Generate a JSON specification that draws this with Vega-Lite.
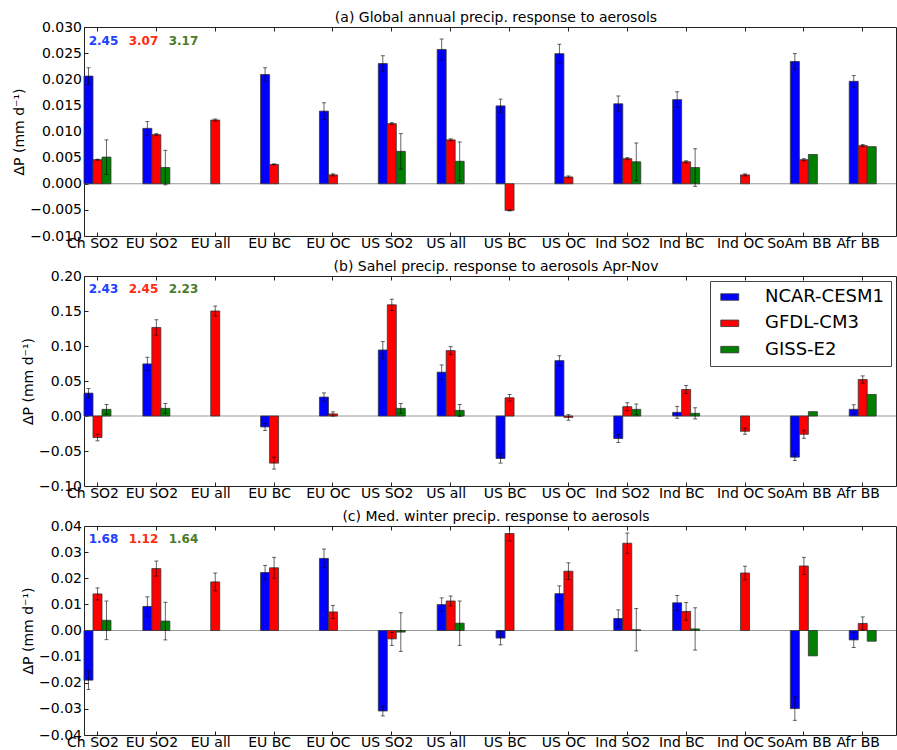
{
  "$schema": "https://vega.github.io/schema/vega-lite/v6.json",
  "padding": {"left": 12, "top": 10, "right": 0, "bottom": 0},
  "bounds": "flush",
  "spacing": 40,
  "datasets": {
    "bars": [
      {"panel": "a", "region": "Ch SO2", "model": "NCAR-CESM1", "value": 0.0206, "err": 0.0016},
      {"panel": "a", "region": "Ch SO2", "model": "GFDL-CM3", "value": 0.0046, "err": 0.0001},
      {"panel": "a", "region": "Ch SO2", "model": "GISS-E2", "value": 0.0051, "err": 0.0033},
      {"panel": "a", "region": "EU SO2", "model": "NCAR-CESM1", "value": 0.0106, "err": 0.0013},
      {"panel": "a", "region": "EU SO2", "model": "GFDL-CM3", "value": 0.0094, "err": 0.0002},
      {"panel": "a", "region": "EU SO2", "model": "GISS-E2", "value": 0.0031, "err": 0.0033},
      {"panel": "a", "region": "EU all", "model": "GFDL-CM3", "value": 0.0122, "err": 0.0002},
      {"panel": "a", "region": "EU BC", "model": "NCAR-CESM1", "value": 0.0209, "err": 0.0013},
      {"panel": "a", "region": "EU BC", "model": "GFDL-CM3", "value": 0.0037, "err": 0.0001},
      {"panel": "a", "region": "EU OC", "model": "NCAR-CESM1", "value": 0.0139, "err": 0.0016},
      {"panel": "a", "region": "EU OC", "model": "GFDL-CM3", "value": 0.0017, "err": 0.0002},
      {"panel": "a", "region": "US SO2", "model": "NCAR-CESM1", "value": 0.0230, "err": 0.0015},
      {"panel": "a", "region": "US SO2", "model": "GFDL-CM3", "value": 0.0115, "err": 0.0002},
      {"panel": "a", "region": "US SO2", "model": "GISS-E2", "value": 0.0062, "err": 0.0034},
      {"panel": "a", "region": "US all", "model": "NCAR-CESM1", "value": 0.0257, "err": 0.0020},
      {"panel": "a", "region": "US all", "model": "GFDL-CM3", "value": 0.0084, "err": 0.0002},
      {"panel": "a", "region": "US all", "model": "GISS-E2", "value": 0.0043, "err": 0.0037},
      {"panel": "a", "region": "US BC", "model": "NCAR-CESM1", "value": 0.0149, "err": 0.0013},
      {"panel": "a", "region": "US BC", "model": "GFDL-CM3", "value": -0.0051, "err": 0.0001},
      {"panel": "a", "region": "US OC", "model": "NCAR-CESM1", "value": 0.0249, "err": 0.0018},
      {"panel": "a", "region": "US OC", "model": "GFDL-CM3", "value": 0.0013, "err": 0.0002},
      {"panel": "a", "region": "Ind SO2", "model": "NCAR-CESM1", "value": 0.0153, "err": 0.0015},
      {"panel": "a", "region": "Ind SO2", "model": "GFDL-CM3", "value": 0.0048, "err": 0.0002},
      {"panel": "a", "region": "Ind SO2", "model": "GISS-E2", "value": 0.0042, "err": 0.0036},
      {"panel": "a", "region": "Ind BC", "model": "NCAR-CESM1", "value": 0.0161, "err": 0.0015},
      {"panel": "a", "region": "Ind BC", "model": "GFDL-CM3", "value": 0.0042, "err": 0.0002},
      {"panel": "a", "region": "Ind BC", "model": "GISS-E2", "value": 0.0031, "err": 0.0036},
      {"panel": "a", "region": "Ind OC", "model": "GFDL-CM3", "value": 0.0017, "err": 0.0002},
      {"panel": "a", "region": "SoAm BB", "model": "NCAR-CESM1", "value": 0.0234, "err": 0.0015},
      {"panel": "a", "region": "SoAm BB", "model": "GFDL-CM3", "value": 0.0046, "err": 0.0002},
      {"panel": "a", "region": "SoAm BB", "model": "GISS-E2", "value": 0.0056, "err": null},
      {"panel": "a", "region": "Afr BB", "model": "NCAR-CESM1", "value": 0.0196, "err": 0.0011},
      {"panel": "a", "region": "Afr BB", "model": "GFDL-CM3", "value": 0.0073, "err": 0.0002},
      {"panel": "a", "region": "Afr BB", "model": "GISS-E2", "value": 0.0071, "err": null},

      {"panel": "b", "region": "Ch SO2", "model": "NCAR-CESM1", "value": 0.0327, "err": 0.0066},
      {"panel": "b", "region": "Ch SO2", "model": "GFDL-CM3", "value": -0.0308, "err": 0.0047},
      {"panel": "b", "region": "Ch SO2", "model": "GISS-E2", "value": 0.0095, "err": 0.0070},
      {"panel": "b", "region": "EU SO2", "model": "NCAR-CESM1", "value": 0.0744, "err": 0.0095},
      {"panel": "b", "region": "EU SO2", "model": "GFDL-CM3", "value": 0.1265, "err": 0.0110},
      {"panel": "b", "region": "EU SO2", "model": "GISS-E2", "value": 0.0109, "err": 0.0070},
      {"panel": "b", "region": "EU all", "model": "GFDL-CM3", "value": 0.1500, "err": 0.0070},
      {"panel": "b", "region": "EU BC", "model": "NCAR-CESM1", "value": -0.0156, "err": 0.0050},
      {"panel": "b", "region": "EU BC", "model": "GFDL-CM3", "value": -0.0673, "err": 0.0085},
      {"panel": "b", "region": "EU OC", "model": "NCAR-CESM1", "value": 0.0270, "err": 0.0060},
      {"panel": "b", "region": "EU OC", "model": "GFDL-CM3", "value": 0.0030, "err": 0.0030},
      {"panel": "b", "region": "US SO2", "model": "NCAR-CESM1", "value": 0.0943, "err": 0.0120},
      {"panel": "b", "region": "US SO2", "model": "GFDL-CM3", "value": 0.1588, "err": 0.0080},
      {"panel": "b", "region": "US SO2", "model": "GISS-E2", "value": 0.0109, "err": 0.0070},
      {"panel": "b", "region": "US all", "model": "NCAR-CESM1", "value": 0.0626, "err": 0.0104},
      {"panel": "b", "region": "US all", "model": "GFDL-CM3", "value": 0.0934, "err": 0.0057},
      {"panel": "b", "region": "US all", "model": "GISS-E2", "value": 0.0080, "err": 0.0085},
      {"panel": "b", "region": "US BC", "model": "NCAR-CESM1", "value": -0.0607, "err": 0.0066},
      {"panel": "b", "region": "US BC", "model": "GFDL-CM3", "value": 0.0260, "err": 0.0047},
      {"panel": "b", "region": "US OC", "model": "NCAR-CESM1", "value": 0.0791, "err": 0.0070},
      {"panel": "b", "region": "US OC", "model": "GFDL-CM3", "value": -0.0020, "err": 0.0040},
      {"panel": "b", "region": "Ind SO2", "model": "NCAR-CESM1", "value": -0.0322, "err": 0.0057},
      {"panel": "b", "region": "Ind SO2", "model": "GFDL-CM3", "value": 0.0133, "err": 0.0057},
      {"panel": "b", "region": "Ind SO2", "model": "GISS-E2", "value": 0.0095, "err": 0.0076},
      {"panel": "b", "region": "Ind BC", "model": "NCAR-CESM1", "value": 0.0052, "err": 0.0085},
      {"panel": "b", "region": "Ind BC", "model": "GFDL-CM3", "value": 0.0379, "err": 0.0057},
      {"panel": "b", "region": "Ind BC", "model": "GISS-E2", "value": 0.0038, "err": 0.0080},
      {"panel": "b", "region": "Ind OC", "model": "GFDL-CM3", "value": -0.0218, "err": 0.0043},
      {"panel": "b", "region": "SoAm BB", "model": "NCAR-CESM1", "value": -0.0588, "err": 0.0047},
      {"panel": "b", "region": "SoAm BB", "model": "GFDL-CM3", "value": -0.0261, "err": 0.0057},
      {"panel": "b", "region": "SoAm BB", "model": "GISS-E2", "value": 0.0062, "err": null},
      {"panel": "b", "region": "Afr BB", "model": "NCAR-CESM1", "value": 0.0095, "err": 0.0066},
      {"panel": "b", "region": "Afr BB", "model": "GFDL-CM3", "value": 0.0521, "err": 0.0052},
      {"panel": "b", "region": "Afr BB", "model": "GISS-E2", "value": 0.0308, "err": null},

      {"panel": "c", "region": "Ch SO2", "model": "NCAR-CESM1", "value": -0.0190, "err": 0.0036},
      {"panel": "c", "region": "Ch SO2", "model": "GFDL-CM3", "value": 0.0140, "err": 0.0023},
      {"panel": "c", "region": "Ch SO2", "model": "GISS-E2", "value": 0.0039, "err": 0.0074},
      {"panel": "c", "region": "EU SO2", "model": "NCAR-CESM1", "value": 0.0092, "err": 0.0037},
      {"panel": "c", "region": "EU SO2", "model": "GFDL-CM3", "value": 0.0237, "err": 0.0029},
      {"panel": "c", "region": "EU SO2", "model": "GISS-E2", "value": 0.0036, "err": 0.0072},
      {"panel": "c", "region": "EU all", "model": "GFDL-CM3", "value": 0.0186, "err": 0.0034},
      {"panel": "c", "region": "EU BC", "model": "NCAR-CESM1", "value": 0.0222, "err": 0.0027},
      {"panel": "c", "region": "EU BC", "model": "GFDL-CM3", "value": 0.0240, "err": 0.0040},
      {"panel": "c", "region": "EU OC", "model": "NCAR-CESM1", "value": 0.0276, "err": 0.0036},
      {"panel": "c", "region": "EU OC", "model": "GFDL-CM3", "value": 0.0071, "err": 0.0025},
      {"panel": "c", "region": "US SO2", "model": "NCAR-CESM1", "value": -0.0308, "err": 0.0019},
      {"panel": "c", "region": "US SO2", "model": "GFDL-CM3", "value": -0.0032, "err": 0.0025},
      {"panel": "c", "region": "US SO2", "model": "GISS-E2", "value": -0.0006, "err": 0.0074},
      {"panel": "c", "region": "US all", "model": "NCAR-CESM1", "value": 0.0099, "err": 0.0026},
      {"panel": "c", "region": "US all", "model": "GFDL-CM3", "value": 0.0113, "err": 0.0019},
      {"panel": "c", "region": "US all", "model": "GISS-E2", "value": 0.0028, "err": 0.0085},
      {"panel": "c", "region": "US BC", "model": "NCAR-CESM1", "value": -0.0029, "err": 0.0026},
      {"panel": "c", "region": "US BC", "model": "GFDL-CM3", "value": 0.0371, "err": 0.0028},
      {"panel": "c", "region": "US OC", "model": "NCAR-CESM1", "value": 0.0141, "err": 0.0030},
      {"panel": "c", "region": "US OC", "model": "GFDL-CM3", "value": 0.0227, "err": 0.0032},
      {"panel": "c", "region": "Ind SO2", "model": "NCAR-CESM1", "value": 0.0046, "err": 0.0033},
      {"panel": "c", "region": "Ind SO2", "model": "GFDL-CM3", "value": 0.0334, "err": 0.0039},
      {"panel": "c", "region": "Ind SO2", "model": "GISS-E2", "value": 0.0003, "err": 0.0081},
      {"panel": "c", "region": "Ind BC", "model": "NCAR-CESM1", "value": 0.0106, "err": 0.0028},
      {"panel": "c", "region": "Ind BC", "model": "GFDL-CM3", "value": 0.0073, "err": 0.0034},
      {"panel": "c", "region": "Ind BC", "model": "GISS-E2", "value": 0.0006, "err": 0.0081},
      {"panel": "c", "region": "Ind OC", "model": "GFDL-CM3", "value": 0.0220, "err": 0.0026},
      {"panel": "c", "region": "SoAm BB", "model": "NCAR-CESM1", "value": -0.0299, "err": 0.0045},
      {"panel": "c", "region": "SoAm BB", "model": "GFDL-CM3", "value": 0.0247, "err": 0.0033},
      {"panel": "c", "region": "SoAm BB", "model": "GISS-E2", "value": -0.0097, "err": null},
      {"panel": "c", "region": "Afr BB", "model": "NCAR-CESM1", "value": -0.0036, "err": 0.0029},
      {"panel": "c", "region": "Afr BB", "model": "GFDL-CM3", "value": 0.0027, "err": 0.0025},
      {"panel": "c", "region": "Afr BB", "model": "GISS-E2", "value": -0.0041, "err": null}
    ],
    "ann": [
      {"panel": "a", "model": "NCAR-CESM1", "label": "2.45"},
      {"panel": "a", "model": "GFDL-CM3", "label": "3.07"},
      {"panel": "a", "model": "GISS-E2", "label": "3.17"},
      {"panel": "b", "model": "NCAR-CESM1", "label": "2.43"},
      {"panel": "b", "model": "GFDL-CM3", "label": "2.45"},
      {"panel": "b", "model": "GISS-E2", "label": "2.23"},
      {"panel": "c", "model": "NCAR-CESM1", "label": "1.68"},
      {"panel": "c", "model": "GFDL-CM3", "label": "1.12"},
      {"panel": "c", "model": "GISS-E2", "label": "1.64"}
    ]
  },
  "resolve": {"scale": {"y": "independent", "color": "independent", "x": "independent"}, "legend": {"color": "independent"}},
  "vconcat": [
    {
      "width": 812, "height": 209,
      "title": {"text": "(a)  Global annual precip. response to aerosols"},
      "layer": [
        {"data": {"values": [{"zero": 0}]}, "mark": {"type": "rule", "color": "#999999", "strokeWidth": 1.2},
         "encoding": {"y": {"field": "zero", "type": "quantitative", "title": "ΔP (mm d⁻¹)",
                 "scale": {"domain": [-0.01, 0.03], "nice": false, "zero": false},
                 "axis": {"values": [-0.01,-0.005,0,0.005,0.01,0.015,0.02,0.025,0.03], "format": ".3f"}}}},
        {"data": {"name": "bars"}, "transform": [{"filter": "datum.panel === 'a'"}],
         "mark": {"type": "bar", "stroke": "#333333", "strokeWidth": 0.8},
         "encoding": {
           "x": {"field": "region", "type": "nominal", "title": null, "axis": {"orient": "bottom"},
                 "scale": {"domain": ["Ch SO2","EU SO2","EU all","EU BC","EU OC","US SO2","US all","US BC","US OC","Ind SO2","Ind BC","Ind OC","SoAm BB","Afr BB"], "paddingInner": 0.5416, "paddingOuter": 0.168, "align": 0}},
           "xOffset": {"field": "model", "type": "nominal", "scale": {"domain": ["NCAR-CESM1","GFDL-CM3","GISS-E2"], "paddingInner": 0, "paddingOuter": 0}},
           "y": {"field": "value", "type": "quantitative", "title": "ΔP (mm d⁻¹)",
                 "axis": {"values": [-0.01,-0.005,0,0.005,0.01,0.015,0.02,0.025,0.03], "format": ".3f"}},
           "color": {"field": "model", "type": "nominal", "legend": null,
                     "scale": {"domain": ["NCAR-CESM1","GFDL-CM3","GISS-E2"], "range": ["#0000ff","#ff0000","#008000"]}}
         }},
        {"data": {"name": "bars"}, "transform": [{"filter": "datum.panel === 'a' && isValid(datum.err)"}],
         "mark": {"type": "errorbar", "color": "black", "opacity": 0.6, "thickness": 1, "ticks": {"size": 4}},
         "encoding": {
           "x": {"field": "region", "type": "nominal", "title": null, "axis": null},
           "xOffset": {"field": "model", "type": "nominal"},
           "y": {"field": "value", "type": "quantitative", "title": "ΔP (mm d⁻¹)",
                 "axis": {"values": [-0.01,-0.005,0,0.005,0.01,0.015,0.02,0.025,0.03], "format": ".3f"}},
           "yError": {"field": "err"}
         }},
        {"data": {"name": "ann"}, "transform": [{"filter": "datum.panel === 'a' && datum.model === 'NCAR-CESM1'"}],
         "mark": {"type": "text", "color": "#2040ff", "fontWeight": "bold", "fontSize": 12, "dx": 6, "baseline": "middle"},
         "encoding": {"x": {"datum": "Ch SO2", "type": "nominal", "title": null, "axis": {"orient": "top", "labels": false}}, "y": {"datum": 0.0273, "type": "quantitative", "title": "ΔP (mm d⁻¹)", "axis": {"values": [-0.01,-0.005,0,0.005,0.01,0.015,0.02,0.025,0.03], "format": ".3f"}}, "text": {"field": "label"}}},
        {"data": {"name": "ann"}, "transform": [{"filter": "datum.panel === 'a' && datum.model === 'GFDL-CM3'"}],
         "mark": {"type": "text", "color": "#ff2a10", "fontWeight": "bold", "fontSize": 12, "dx": 46, "baseline": "middle"},
         "encoding": {"x": {"datum": "Ch SO2", "type": "nominal", "title": null, "axis": null}, "y": {"datum": 0.0273, "type": "quantitative", "title": "ΔP (mm d⁻¹)", "axis": {"values": [-0.01,-0.005,0,0.005,0.01,0.015,0.02,0.025,0.03], "format": ".3f"}}, "text": {"field": "label"}}},
        {"data": {"name": "ann"}, "transform": [{"filter": "datum.panel === 'a' && datum.model === 'GISS-E2'"}],
         "mark": {"type": "text", "color": "#4b7b2b", "fontWeight": "bold", "fontSize": 12, "dx": 86, "baseline": "middle"},
         "encoding": {"x": {"datum": "Ch SO2", "type": "nominal", "title": null, "axis": null}, "y": {"datum": 0.0273, "type": "quantitative", "title": "ΔP (mm d⁻¹)", "axis": {"values": [-0.01,-0.005,0,0.005,0.01,0.015,0.02,0.025,0.03], "format": ".3f"}}, "text": {"field": "label"}}}
      ]
    },
    {
      "width": 812, "height": 210,
      "title": {"text": "(b) Sahel precip. response to aerosols Apr-Nov"},
      "layer": [
        {"data": {"values": [{"zero": 0}]}, "mark": {"type": "rule", "color": "#999999", "strokeWidth": 1.2},
         "encoding": {"y": {"field": "zero", "type": "quantitative", "title": "ΔP (mm d⁻¹)",
                 "scale": {"domain": [-0.1, 0.2], "nice": false, "zero": false},
                 "axis": {"values": [-0.1,-0.05,0,0.05,0.1,0.15,0.2], "format": ".2f"}}}},
        {"data": {"name": "bars"}, "transform": [{"filter": "datum.panel === 'b'"}],
         "mark": {"type": "bar", "stroke": "#333333", "strokeWidth": 0.8},
         "encoding": {
           "x": {"field": "region", "type": "nominal", "title": null, "axis": {"orient": "bottom"},
                 "scale": {"domain": ["Ch SO2","EU SO2","EU all","EU BC","EU OC","US SO2","US all","US BC","US OC","Ind SO2","Ind BC","Ind OC","SoAm BB","Afr BB"], "paddingInner": 0.5416, "paddingOuter": 0.168, "align": 0}},
           "xOffset": {"field": "model", "type": "nominal", "scale": {"domain": ["NCAR-CESM1","GFDL-CM3","GISS-E2"], "paddingInner": 0, "paddingOuter": 0}},
           "y": {"field": "value", "type": "quantitative", "title": "ΔP (mm d⁻¹)",
                 "axis": {"values": [-0.1,-0.05,0,0.05,0.1,0.15,0.2], "format": ".2f"}},
           "color": {"field": "model", "type": "nominal",
                     "scale": {"domain": ["NCAR-CESM1","GFDL-CM3","GISS-E2"], "range": ["#0000ff","#ff0000","#008000"]},
                     "legend": {"orient": "top-right", "title": null, "offset": 5,
                                "symbolType": "M-1.05,-0.65L2.55,-0.65L2.55,0.65L-1.05,0.65Z", "symbolSize": 100,
                                "symbolStrokeColor": "#333333", "symbolStrokeWidth": 0.8,
                                "labelFontSize": 18, "labelFont": "DejaVu Sans", "labelColor": "black", "labelOffset": 30,
                                "strokeColor": "#444444", "fillColor": "white", "padding": 7, "rowPadding": 8.3}}
         }},
        {"data": {"name": "bars"}, "transform": [{"filter": "datum.panel === 'b' && isValid(datum.err)"}],
         "mark": {"type": "errorbar", "color": "black", "opacity": 0.6, "thickness": 1, "ticks": {"size": 4}},
         "encoding": {
           "x": {"field": "region", "type": "nominal", "title": null, "axis": null},
           "xOffset": {"field": "model", "type": "nominal"},
           "y": {"field": "value", "type": "quantitative", "title": "ΔP (mm d⁻¹)",
                 "axis": {"values": [-0.1,-0.05,0,0.05,0.1,0.15,0.2], "format": ".2f"}},
           "yError": {"field": "err"}
         }},
        {"data": {"name": "ann"}, "transform": [{"filter": "datum.panel === 'b' && datum.model === 'NCAR-CESM1'"}],
         "mark": {"type": "text", "color": "#2040ff", "fontWeight": "bold", "fontSize": 12, "dx": 6, "baseline": "middle"},
         "encoding": {"x": {"datum": "Ch SO2", "type": "nominal", "title": null, "axis": {"orient": "top", "labels": false}}, "y": {"datum": 0.181, "type": "quantitative", "title": "ΔP (mm d⁻¹)", "axis": {"values": [-0.1,-0.05,0,0.05,0.1,0.15,0.2], "format": ".2f"}}, "text": {"field": "label"}}},
        {"data": {"name": "ann"}, "transform": [{"filter": "datum.panel === 'b' && datum.model === 'GFDL-CM3'"}],
         "mark": {"type": "text", "color": "#ff2a10", "fontWeight": "bold", "fontSize": 12, "dx": 46, "baseline": "middle"},
         "encoding": {"x": {"datum": "Ch SO2", "type": "nominal", "title": null, "axis": null}, "y": {"datum": 0.181, "type": "quantitative", "title": "ΔP (mm d⁻¹)", "axis": {"values": [-0.1,-0.05,0,0.05,0.1,0.15,0.2], "format": ".2f"}}, "text": {"field": "label"}}},
        {"data": {"name": "ann"}, "transform": [{"filter": "datum.panel === 'b' && datum.model === 'GISS-E2'"}],
         "mark": {"type": "text", "color": "#4b7b2b", "fontWeight": "bold", "fontSize": 12, "dx": 86, "baseline": "middle"},
         "encoding": {"x": {"datum": "Ch SO2", "type": "nominal", "title": null, "axis": null}, "y": {"datum": 0.181, "type": "quantitative", "title": "ΔP (mm d⁻¹)", "axis": {"values": [-0.1,-0.05,0,0.05,0.1,0.15,0.2], "format": ".2f"}}, "text": {"field": "label"}}}
      ]
    },
    {
      "width": 812, "height": 209,
      "title": {"text": "(c) Med. winter precip. response to aerosols"},
      "layer": [
        {"data": {"values": [{"zero": 0}]}, "mark": {"type": "rule", "color": "#999999", "strokeWidth": 1.2},
         "encoding": {"y": {"field": "zero", "type": "quantitative", "title": "ΔP (mm d⁻¹)",
                 "scale": {"domain": [-0.04, 0.04], "nice": false, "zero": false},
                 "axis": {"values": [-0.04,-0.03,-0.02,-0.01,0,0.01,0.02,0.03,0.04], "format": ".2f"}}}},
        {"data": {"name": "bars"}, "transform": [{"filter": "datum.panel === 'c'"}],
         "mark": {"type": "bar", "stroke": "#333333", "strokeWidth": 0.8},
         "encoding": {
           "x": {"field": "region", "type": "nominal", "title": null, "axis": {"orient": "bottom"},
                 "scale": {"domain": ["Ch SO2","EU SO2","EU all","EU BC","EU OC","US SO2","US all","US BC","US OC","Ind SO2","Ind BC","Ind OC","SoAm BB","Afr BB"], "paddingInner": 0.5416, "paddingOuter": 0.168, "align": 0}},
           "xOffset": {"field": "model", "type": "nominal", "scale": {"domain": ["NCAR-CESM1","GFDL-CM3","GISS-E2"], "paddingInner": 0, "paddingOuter": 0}},
           "y": {"field": "value", "type": "quantitative", "title": "ΔP (mm d⁻¹)",
                 "axis": {"values": [-0.04,-0.03,-0.02,-0.01,0,0.01,0.02,0.03,0.04], "format": ".2f"}},
           "color": {"field": "model", "type": "nominal", "legend": null,
                     "scale": {"domain": ["NCAR-CESM1","GFDL-CM3","GISS-E2"], "range": ["#0000ff","#ff0000","#008000"]}}
         }},
        {"data": {"name": "bars"}, "transform": [{"filter": "datum.panel === 'c' && isValid(datum.err)"}],
         "mark": {"type": "errorbar", "color": "black", "opacity": 0.6, "thickness": 1, "ticks": {"size": 4}},
         "encoding": {
           "x": {"field": "region", "type": "nominal", "title": null, "axis": null},
           "xOffset": {"field": "model", "type": "nominal"},
           "y": {"field": "value", "type": "quantitative", "title": "ΔP (mm d⁻¹)",
                 "axis": {"values": [-0.04,-0.03,-0.02,-0.01,0,0.01,0.02,0.03,0.04], "format": ".2f"}},
           "yError": {"field": "err"}
         }},
        {"data": {"name": "ann"}, "transform": [{"filter": "datum.panel === 'c' && datum.model === 'NCAR-CESM1'"}],
         "mark": {"type": "text", "color": "#2040ff", "fontWeight": "bold", "fontSize": 12, "dx": 6, "baseline": "middle"},
         "encoding": {"x": {"datum": "Ch SO2", "type": "nominal", "title": null, "axis": {"orient": "top", "labels": false}}, "y": {"datum": 0.0349, "type": "quantitative", "title": "ΔP (mm d⁻¹)", "axis": {"values": [-0.04,-0.03,-0.02,-0.01,0,0.01,0.02,0.03,0.04], "format": ".2f"}}, "text": {"field": "label"}}},
        {"data": {"name": "ann"}, "transform": [{"filter": "datum.panel === 'c' && datum.model === 'GFDL-CM3'"}],
         "mark": {"type": "text", "color": "#ff2a10", "fontWeight": "bold", "fontSize": 12, "dx": 46, "baseline": "middle"},
         "encoding": {"x": {"datum": "Ch SO2", "type": "nominal", "title": null, "axis": null}, "y": {"datum": 0.0349, "type": "quantitative", "title": "ΔP (mm d⁻¹)", "axis": {"values": [-0.04,-0.03,-0.02,-0.01,0,0.01,0.02,0.03,0.04], "format": ".2f"}}, "text": {"field": "label"}}},
        {"data": {"name": "ann"}, "transform": [{"filter": "datum.panel === 'c' && datum.model === 'GISS-E2'"}],
         "mark": {"type": "text", "color": "#4b7b2b", "fontWeight": "bold", "fontSize": 12, "dx": 86, "baseline": "middle"},
         "encoding": {"x": {"datum": "Ch SO2", "type": "nominal", "title": null, "axis": null}, "y": {"datum": 0.0349, "type": "quantitative", "title": "ΔP (mm d⁻¹)", "axis": {"values": [-0.04,-0.03,-0.02,-0.01,0,0.01,0.02,0.03,0.04], "format": ".2f"}}, "text": {"field": "label"}}}
      ]
    }
  ],
  "config": {
    "font": "DejaVu Sans",
    "view": {"stroke": "#222222", "strokeWidth": 1},
    "title": {"font": "DejaVu Sans", "fontSize": 14, "fontWeight": "normal", "color": "black", "anchor": "middle", "offset": -5, "baseline": "alphabetic", "dx": 6},
    "text": {"font": "DejaVu Sans"},
    "axis": {"labelFont": "DejaVu Sans", "labelFontSize": 14, "labelColor": "black", "titleFont": "DejaVu Sans", "titleFontSize": 14, "titleFontWeight": "normal", "titleColor": "black", "grid": false, "domain": false, "tickColor": "#222222", "tickSize": -4},
    "axisX": {"labelAngle": 0, "labelOffset": -4.5, "tickOffset": -4.5, "labelOverlap": false, "labelPadding": 4},
    "axisY": {"labelPadding": 6.5, "titlePadding": 3, "labelOverlap": false}
  }
}
